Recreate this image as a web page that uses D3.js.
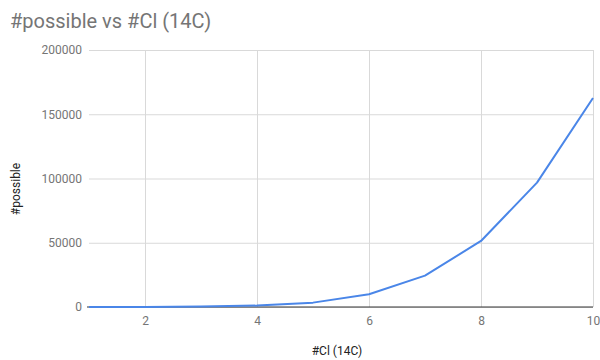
<!DOCTYPE html>
<html><head><meta charset="utf-8">
<script src="https://cdn.jsdelivr.net/npm/d3@7"></script>
<style>body{margin:0;background:#fff;}svg{display:block;font-family:Roboto,sans-serif;}</style>
</head><body><svg id="c" width="600" height="360"></svg>
<script>
const xValues = [1, 2, 3, 4, 5, 6, 7, 8, 9, 10];
const yValues = [10, 90, 400, 1100, 3400, 9900, 24400, 51400, 96800, 162700];
const xTicks = [2, 4, 6, 8, 10];
const yTicks = [0, 50000, 100000, 150000, 200000];
const title = "#possible vs #Cl (14C)";
const xLabel = "#Cl (14C)";
const yLabel = "#possible";

const svg = d3.select("#c");
const x = d3.scaleLinear().domain([1, 10]).range([89, 593]);
const y = d3.scaleLinear().domain([0, 200000]).range([307, 50]);

svg.append("text").attr("x", 10).attr("y", 28).attr("font-size", 20).attr("fill", "#757575").text(title);

const gy = svg.append("g").attr("transform", "translate(89,0)")
  .call(d3.axisLeft(y).tickValues(yTicks).tickSize(-504).tickPadding(7).tickFormat(d3.format("d")));
gy.select(".domain").remove();
gy.selectAll(".tick line").attr("stroke", "#d9d9d9");
gy.selectAll(".tick text").attr("fill", "#757575").attr("font-size", 12).attr("font-family", "Roboto,sans-serif");

const gx = svg.append("g").attr("transform", "translate(0,307)")
  .call(d3.axisBottom(x).tickValues(xTicks).tickSize(-257).tickPadding(9).tickFormat(d3.format("d")));
gx.select(".domain").remove();
gx.selectAll(".tick line").attr("stroke", "#d9d9d9");
gx.selectAll(".tick text").attr("fill", "#757575").attr("font-size", 12).attr("font-family", "Roboto,sans-serif");

svg.append("line").attr("x1", x(1) - 2).attr("x2", x(10)).attr("y1", y(0)).attr("y2", y(0)).attr("stroke", "#333").attr("stroke-width", 1);

svg.append("path").datum(xValues.map((v, i) => [v, yValues[i]]))
  .attr("fill", "none").attr("stroke", "#4a86e8").attr("stroke-width", 2)
  .attr("stroke-linejoin", "round")
  .attr("d", d3.line().x(d => x(d[0])).y(d => y(d[1])));

svg.append("text").attr("x", 337).attr("y", 355).attr("text-anchor", "middle").attr("font-size", 12).attr("fill", "#222").text(xLabel);
svg.append("text").attr("transform", "translate(20,189) rotate(-90)").attr("text-anchor", "middle").attr("font-size", 12).attr("fill", "#222").text(yLabel);
</script></body></html>
